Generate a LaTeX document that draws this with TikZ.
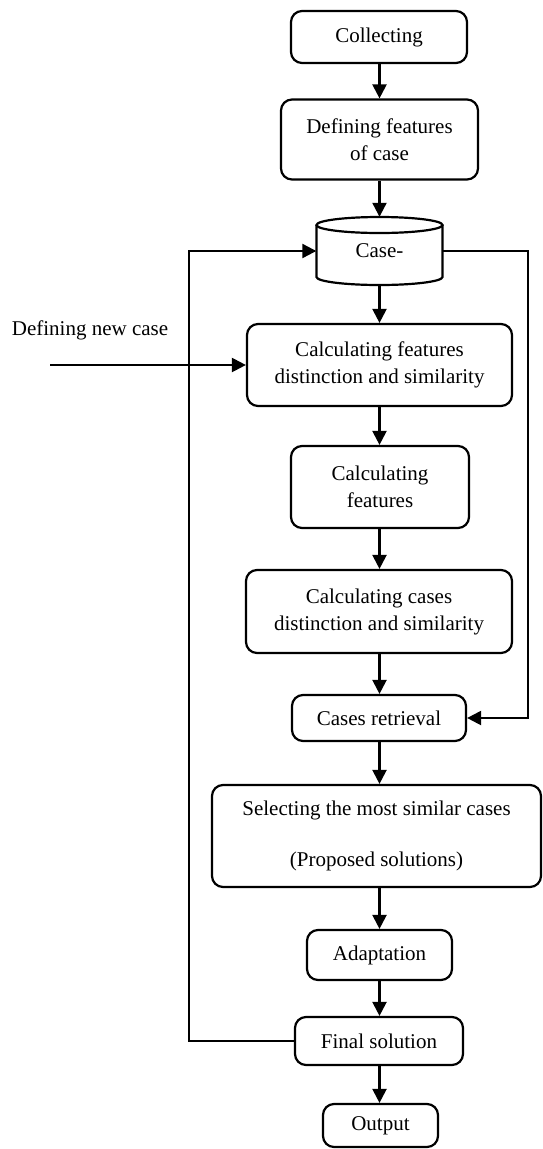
\documentclass[tikz,border=0pt]{standalone}
\usepackage{fontspec}
\setmainfont{Liberation Serif}
\usetikzlibrary{arrows.meta}
\begin{document}
\begin{tikzpicture}[x=1pt,y=-1pt,
  ln/.style={line width=2.2pt},
  arr/.style={ln,-{Triangle[length=14pt,width=14pt]}},
  box/.style={draw,ln,rounded corners=11pt,align=center,inner sep=0pt,
    font=\fontsize{21}{27}\selectfont},
  lbl/.style={inner sep=0pt,font=\fontsize{21}{27}\selectfont}]
\useasboundingbox (0,0) rectangle (543,1149);
\node[box,minimum width=176pt,minimum height=52pt] (collect) at (379,37) {Collecting};
\node[box,minimum width=197pt,minimum height=80pt] (define) at (379.5,139.5) {Defining features\\of case};
% cylinder
\draw[ln] (379.5,225) ellipse [x radius=63pt, y radius=8pt];
\draw[ln] (316.5,225) -- (316.5,277) arc[start angle=180, end angle=360, x radius=63pt, y radius=8pt] -- (442.5,225);
\node[lbl,minimum width=126pt,minimum height=68pt] (db) at (379.5,251) {Case-};
\node[box,minimum width=265pt,minimum height=82pt] (calc1) at (379.5,365) {Calculating features\\distinction and similarity};
\node[box,minimum width=178pt,minimum height=82pt] (calc2) at (380,487) {Calculating\\features};
\node[box,minimum width=266pt,minimum height=83pt] (calc3) at (379,611.5) {Calculating cases\\distinction and similarity};
\node[box,minimum width=174pt,minimum height=46pt] (retr) at (379,718) {Cases retrieval};
\node[box,minimum width=329pt,minimum height=102pt] (select) at (376.5,836) {Selecting the most similar cases\\[24pt](Proposed solutions)};
\node[box,minimum width=145pt,minimum height=50pt] (adapt) at (379.5,955) {Adaptation};
\node[box,minimum width=168pt,minimum height=48pt] (final) at (379,1041) {Final solution};
\node[box,minimum width=115pt,minimum height=43pt] (out) at (380.5,1125.5) {Output};
\node[lbl] (newcase) at (90,330) {Defining new case};
\coordinate (start) at (50,365);
% vertical arrows
\draw[arr] (collect.south -| db.center) -- (define.north -| db.center);
\draw[arr] (define.south -| db.center) -- (db.north);
\draw[arr] (db.south) -- (calc1.north -| db.center);
\draw[arr] (calc1.south -| db.center) -- (calc2.north -| db.center);
\draw[arr] (calc2.south -| db.center) -- (calc3.north -| db.center);
\draw[arr] (calc3.south -| db.center) -- (retr.north -| db.center);
\draw[arr] (retr.south -| db.center) -- (select.north -| db.center);
\draw[arr] (select.south -| db.center) -- (adapt.north -| db.center);
\draw[arr] (adapt.south -| db.center) -- (final.north -| db.center);
\draw[arr] (final.south -| db.center) -- (out.north -| db.center);
% side arrows
\draw[arr] (start) -- (calc1.west |- start);
\draw[arr] (final.west) -- (189,1041) -- (189,251) -- (db.west);
\draw[arr] (db.east) -- (528,251) -- (528,718) -- (retr.east);
\end{tikzpicture}
\end{document}
